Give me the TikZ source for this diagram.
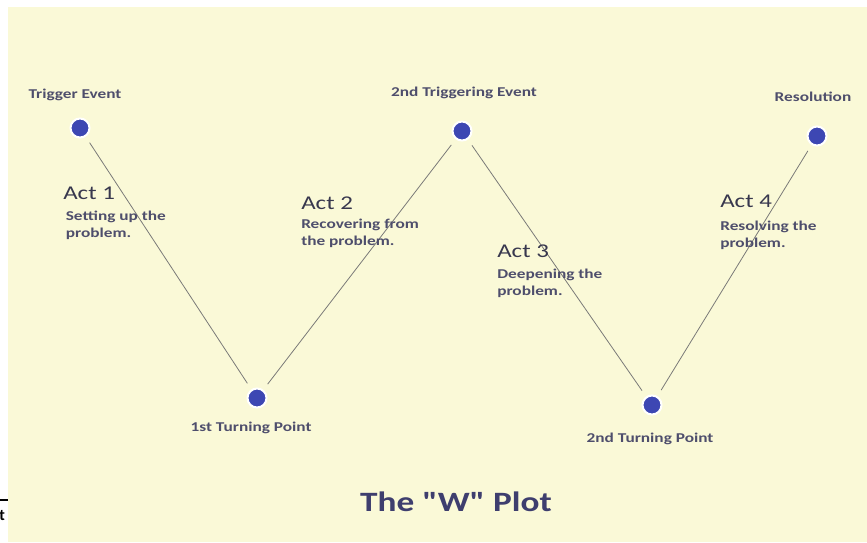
\documentclass[tikz,border=0pt]{standalone}
\usepackage{fontspec}
\setmainfont{Carlito}
\newfontfamily\titlefont{Carlito}
\usetikzlibrary{positioning}

\definecolor{paper}{HTML}{FAF9D7}
\definecolor{dotblue}{HTML}{3D47B3}
\definecolor{labelgray}{HTML}{4E4E6C}
\definecolor{actgray}{HTML}{38384E}
\definecolor{titleblue}{HTML}{3E3E6E}
\definecolor{linegray}{HTML}{7A7A78}

\begin{document}
\begin{tikzpicture}[
  x=1pt, y=-1pt,
  stage/.style={circle, fill=dotblue, draw=white, line width=2pt, minimum size=19pt, inner sep=0pt},
  stagelabel/.style={font=\bfseries\fontsize{13.5}{17}\selectfont, text=labelgray, inner sep=0pt, xscale=1.28, transform shape},
  acthead/.style={font=\fontsize{19.5}{22}\selectfont, text=actgray, inner sep=0pt, anchor=west, xscale=1.28, transform shape},
  actdesc/.style={font=\bfseries\fontsize{13.5}{17}\selectfont, text=labelgray, inner sep=0pt, align=left, anchor=north west, xscale=1.28, transform shape},
  plotline/.style={draw=linegray, line width=0.8pt, shorten <=7pt, shorten >=7pt}]
\useasboundingbox (0,0) rectangle (867,542);
\fill[white] (0,0) rectangle (867,542);
\fill[paper] (8,7) rectangle (867,542);

% cut-off piece at the left edge
\draw[line width=1.6pt] (0,500) -- (8,500);
\node[anchor=east, inner sep=0pt, font=\bfseries\fontsize{16}{18}\selectfont] (cut) at (5,515) {t};

% the five points of the W
\node[stage] (trigger) at (80,128) {};
\node[stage] (turnone) at (257,398) {};
\node[stage] (trigtwo) at (462,131) {};
\node[stage] (turntwo) at (652,405) {};
\node[stage] (resolution) at (817,136) {};

\node[stagelabel] (triggerlbl) at (75,95) {Trigger Event};
\node[stagelabel] (turnonelbl) at (251,428) {1st Turning Point};
\node[stagelabel] (trigtwolbl) at (464,93) {2nd Triggering Event};
\node[stagelabel] (turntwolbl) at (650,439) {2nd Turning Point};
\node[stagelabel] (resolutionlbl) at (813,97) {Resolution};

\draw[plotline] (trigger) -- (turnone);
\draw[plotline] (turnone) -- (trigtwo);
\draw[plotline] (trigtwo) -- (turntwo);
\draw[plotline] (turntwo) -- (resolution);

% the acts
\node[acthead] (actone) at (63,193) {Act 1};
\node[actdesc, below=11pt of actone.south west, anchor=north west, xshift=2pt] (actonetxt) {Setting up the\\problem.};
\node[acthead] (acttwo) at (301,203) {Act 2};
\node[actdesc, below=9pt of acttwo.south west, anchor=north west] (acttwotxt) {Recovering from\\the problem.};
\node[acthead] (actthree) at (497,251) {Act 3};
\node[actdesc, below=11pt of actthree.south west, anchor=north west] (actthreetxt) {Deepening the\\problem.};
\node[acthead] (actfour) at (720,201) {Act 4};
\node[actdesc, below=13pt of actfour.south west, anchor=north west] (actfourtxt) {Resolving the\\problem.};

\node[font=\titlefont\bfseries\fontsize{28}{32}\selectfont, text=titleblue, inner sep=0pt, xscale=1.26, transform shape] (title) at (456,502) {The "W" Plot};
\end{tikzpicture}
\end{document}
